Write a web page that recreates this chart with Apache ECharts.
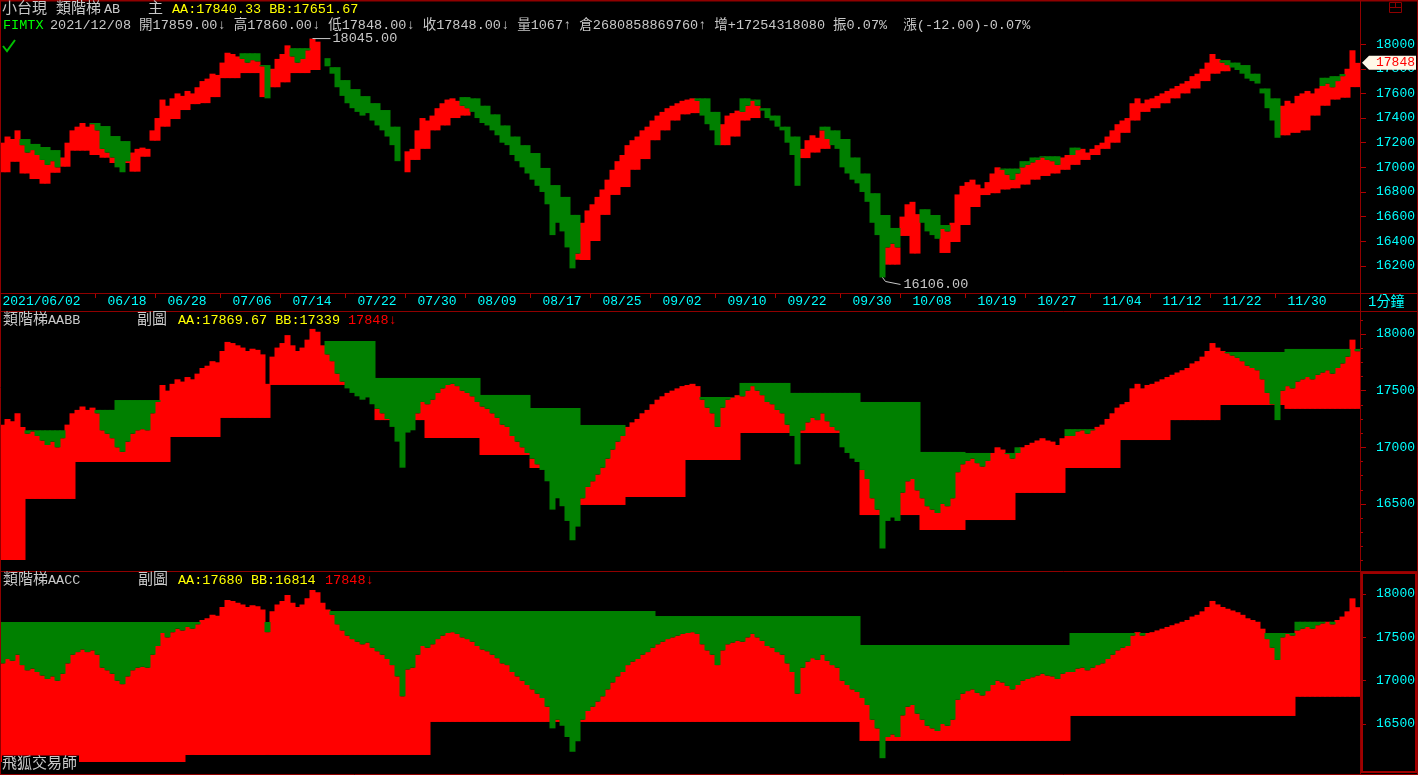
<!DOCTYPE html>
<html><head><meta charset="utf-8">
<script src="https://cdn.jsdelivr.net/npm/echarts@6/dist/echarts.min.js"></script>
<style>html,body{margin:0;padding:0;background:#000;overflow:hidden}#c{width:1418px;height:775px;}</style>
</head><body><div id="c"></div>
<script>
// ---- price (one value per 5px slot) ----
const price = [
17200,17250,17230,17300,17180,17120,17140,17100,17060,17020,
17050,17000,17080,17200,17300,17330,17360,17330,17350,17300,
17150,17120,17080,17000,16960,17050,17120,17150,17160,17150,
17300,17400,17550,17500,17560,17600,17580,17620,17600,17650,
17700,17720,17760,17750,17850,17930,17920,17900,17880,17850,
17870,17860,17820,17560,17800,17880,17920,17990,17900,17850,
17880,17950,18045,18020,17900,17820,17760,17650,17580,17520,
17480,17450,17420,17440,17380,17340,17300,17250,17180,17050,
16820,17130,17150,17300,17400,17380,17420,17480,17520,17550,
17560,17540,17500,17480,17450,17400,17360,17340,17300,17260,
17200,17180,17100,17050,17000,16950,16900,16850,16800,16700,
16450,16550,16480,16350,16180,16300,16550,16650,16700,16760,
16820,16900,16980,17050,17100,17180,17220,17250,17300,17330,
17380,17420,17450,17480,17500,17520,17540,17550,17560,17540,
17420,17350,17300,17180,17350,17420,17440,17460,17450,17500,
17540,17500,17460,17400,17380,17330,17300,17200,17100,16850,
17150,17220,17260,17240,17300,17230,17180,17150,17000,16950,
16900,16870,16800,16720,16550,16450,16106,16350,16380,16350,
16600,16700,16720,16620,16550,16480,16450,16420,16500,16480,
16550,16780,16850,16880,16900,16860,16830,16880,16950,17000,
16980,16940,16900,16950,17000,17020,17040,17060,17080,17060,
17050,17020,17080,17100,17100,17140,17150,17120,17150,17180,
17200,17250,17300,17350,17380,17400,17520,17560,17520,17550,
17560,17580,17600,17620,17640,17660,17680,17700,17740,17760,
17800,17850,17920,17880,17850,17830,17810,17790,17760,17720,
17700,17680,17600,17480,17380,17240,17500,17540,17520,17580,
17600,17620,17600,17640,17660,17680,17650,17700,17740,17800,
17950,17848];

// ---- main panel ladder (one value per trading day = 2 slots) ----
const topAA = [
null,17213,17230,17190,17165,17140,null,null,null,17360,
17335,17254,17213,null,null,null,null,null,null,null,
null,null,null,null,17926,17926,17830,null,null,17967,
17967,17960,17886,17813,17708,17635,17578,17521,17465,17330,
null,null,null,null,null,null,17570,17560,17500,17430,
17340,17250,17180,17116,16995,16856,16760,16614,null,null,
null,null,null,null,null,null,null,null,null,17560,
17560,17450,null,null,17560,17550,17480,17420,17330,17250,
null,null,17330,17300,17230,17080,16950,16790,16613,16508,
null,null,16660,16613,16532,null,null,null,null,null,
16990,16990,17050,17080,17090,17090,null,17160,null,null,
null,null,null,null,null,null,null,null,null,null,
null,null,17870,17850,17830,17760,17640,17560,null,null,
null,null,17727,17740,17757,17840];
const topBB = [
16960,17045,16950,16905,16867,16956,17005,17135,17135,17100,
17078,17035,17035,16965,17086,17216,17330,17392,17465,17513,
17521,17570,17724,17724,17765,17765,17570,17650,17690,17765,
17765,17790,null,null,null,null,null,null,null,null,
16960,17060,17150,17300,17340,17400,17420,null,null,null,
null,null,null,null,null,null,null,16250,16248,16402,
16614,16776,16840,16980,17067,17220,17300,17380,17430,17440,
null,null,17180,17250,17380,17400,null,null,null,null,
17075,17120,17150,null,null,null,null,null,16210,16210,
16443,16300,null,null,16305,16394,16532,16678,16775,16790,
16820,16830,16860,16900,16930,16950,16980,17020,17060,17100,
17150,17200,17280,17380,17450,17480,17520,17560,17600,17640,
17700,17760,17780,null,null,null,null,null,17260,17280,
17300,17420,17500,17550,17565,17651];

// ---- AABB ladder: segment end slot, upper level, lower level ----
const midEnd = [5,15,23,34,44,54,65,75,85,96,106,116,125,137,148,158,172,184,193,203,213,224,234,244,257,272];
const midAA  = [17150,17150,17330,17417,null,null,null,17938,17612,17612,17462,17347,17197,null,17444,17568,17480,17400,16959,16950,17000,17160,null,null,17841,17868];
const midBB  = [16005,16544,16870,16870,17091,17259,17550,17550,17240,17082,16932,16817,16491,16561,16888,17126,17126,16402,16270,16358,16597,16817,17064,17240,17373,17339];

// ---- AACC ladder ----
const botEnd = [37,66,86,131,172,214,259,272];
const botAA  = [17677,17677,17804,17804,17746,17412,17550,17680];
const botBB  = [16062,16143,16143,16524,16524,16305,16593,16814];

// ---- axis labels ----
const xLabelIdx  = [0,21,33,46,58,71,83,95,108,120,132,145,157,170,182,195,207,220,232,244,257];
const xLabelText = ['2021/06/02','06/18','06/28','07/06','07/14','07/22','07/30','08/09','08/17','08/25','09/02','09/10','09/22','09/30','10/08','10/19','10/27','11/04','11/12','11/22','11/30'];
const topTicks = [16200,16400,16600,16800,17000,17200,17400,17600,17800,18000];
const subTicks = [16500,17000,17500,18000];
const subMinor = [16000,16125,16250,16375,16625,16750,16875,17125,17250,17375,17625,17750,17875,18125];
const lastPrice = 17848, highMark = 18045, lowMark = 16106;

const N = price.length;
const cats = price.map((_, i) => String(i));
function expand(ends, vals) {
  const out = []; let s = 0;
  for (let k = 0; k < ends.length; k++) { for (let i = s; i < ends[k]; i++) out.push(vals[k]); s = ends[k]; }
  return out;
}
const topA = price.map((_, i) => topAA[Math.floor(i / 2)]);
const topB = price.map((_, i) => topBB[Math.floor(i / 2)]);
const panels = [
  [topA, topB],
  [expand(midEnd, midAA), expand(midEnd, midBB)],
  [expand(botEnd, botAA), expand(botEnd, botBB)]
];
const RED = '#ff0000', GREEN = '#008000', BORDER = '#900000';
const series = [];
panels.forEach(([A, B], g) => {
  const base = [], red = [], green = [];
  for (let i = 0; i < N; i++) {
    const p = price[i], a = A[i], b = B[i];
    const lo = b == null ? p : Math.min(b, p);
    base.push(lo); red.push(p - lo); green.push(a == null ? 0 : Math.max(a - p, 0));
  }
  const common = { type: 'bar', stack: 's' + g, xAxisIndex: g, yAxisIndex: g, barWidth: 6, silent: true, animation: false };
  series.push(Object.assign({ data: base, itemStyle: { color: 'rgba(0,0,0,0)' } }, common));
  series.push(Object.assign({ data: red, itemStyle: { color: RED } }, common));
  series.push(Object.assign({ data: green, itemStyle: { color: GREEN } }, common));
});

const FONT = '"Liberation Mono","Noto Sans CJK TC",monospace';
function xAx(g) {
  return { type: 'category', gridIndex: g, data: cats, show: false };
}
function yAx(g, min, max, ticks, withLabels, len) {
  return {
    type: 'value', gridIndex: g, position: 'right', min: min, max: max,
    axisLine: { show: withLabels, lineStyle: { color: BORDER } },
    splitLine: { show: false },
    axisTick: { show: true, customValues: ticks, length: len, lineStyle: { color: '#b00000' } },
    axisLabel: { show: withLabels, customValues: ticks, formatter: (v) => String(v), color: '#00ffff', fontFamily: FONT, fontSize: 13, margin: 16 }
  };
}
const chart = echarts.init(document.getElementById('c'), null, { renderer: 'canvas' });
chart.setOption({
  backgroundColor: '#000',
  animation: false,
  grid: [
    { left: 0, top: 1, width: 1360, height: 292 },
    { left: 0, top: 312, width: 1360, height: 258 },
    { left: 0, top: 572, width: 1360, height: 201 }
  ],
  xAxis: [xAx(0), xAx(1), xAx(2)],
  yAxis: [
    yAx(0, 15980, 18350, topTicks, true, 6),
    yAx(1, 15917, 18194, subTicks, true, 6),
    yAx(2, 15935, 18254, subTicks, true, 6),
    yAx(1, 15917, 18194, subMinor, false, 3),
    yAx(2, 15935, 18254, subMinor, false, 3)
  ],
  series: series
});

// ---- overlay texts, x-axis labels and frame ----
const hiIdx = price.indexOf(highMark), loIdx = price.indexOf(lowMark);
const hiPt = chart.convertToPixel({ gridIndex: 0 }, [hiIdx, highMark]);
const loPt = chart.convertToPixel({ gridIndex: 0 }, [loIdx, lowMark]);
const tagY = chart.convertToPixel({ yAxisIndex: 0 }, lastPrice);
function T(x, y, text, fill, size, extra) {
  return { type: 'text', z: 100, style: Object.assign({ x: x, y: y, text: text, fill: fill,
    font: (size || 13) + 'px ' + FONT, verticalAlign: 'middle' }, extra || {}) };
}
function L(x1, y1, x2, y2, w, c) {
  return { type: 'line', z: 99, shape: { x1: x1, y1: y1, x2: x2, y2: y2 }, style: { stroke: c || BORDER, lineWidth: w || 1 } };
}
const GRAY = '#c8c8c8', YEL = '#ffff00', CYAN = '#00ffff';
const els = [
  L(0, 0.5, 1418, 0.5, 2), L(0.5, 0, 0.5, 775), L(1417.5, 0, 1417.5, 775), L(0, 774.5, 1418, 774.5),
  L(1360.5, 0, 1360.5, 775), L(0, 293.5, 1418, 293.5), L(0, 311.5, 1418, 311.5), L(0, 571.5, 1418, 571.5),
  { type: 'rect', z: 99, shape: { x: 1362, y: 573, width: 54, height: 199 }, style: { fill: null, stroke: '#a00000', lineWidth: 2 } },
  { type: 'rect', z: 99, shape: { x: 1389.5, y: 2.5, width: 12, height: 10 }, style: { fill: null, stroke: BORDER, lineWidth: 1 } },
  L(1389.5, 7.5, 1401.5, 7.5, 1), L(1395.5, 2.5, 1395.5, 7.5, 1),
  T(2, 9, '小台現 類階梯', GRAY, 15), T(104, 9, 'AB', GRAY, 13.5), T(148, 9, '主', GRAY, 15), T(172, 9, 'AA:17840.33 BB:17651.67', YEL, 13.5),
  T(3, 25, 'FIMTX', '#00ff00', 13.5),
  T(50, 25, '2021/12/08 開17859.00↓ 高17860.00↓ 低17848.00↓ 收17848.00↓ 量1067↑ 倉2680858869760↑ 增+17254318080 振0.07%  漲(-12.00)-0.07%', GRAY, 13.5),
  { type: 'polyline', z: 100, shape: { points: [[3, 46], [7, 51], [15, 40]] }, style: { stroke: '#00c000', lineWidth: 2, fill: null } },
  L(hiPt[0], hiPt[1], hiPt[0] + 18, hiPt[1], 1, GRAY), T(hiPt[0] + 20, hiPt[1], '18045.00', GRAY, 13.5),
  { type: 'polyline', z: 100, shape: { points: [[loPt[0], loPt[1]], [loPt[0] + 3, loPt[1] + 4], [loPt[0] + 18, loPt[1] + 7]] }, style: { stroke: GRAY, lineWidth: 1, fill: null } },
  T(loPt[0] + 21, loPt[1] + 7, '16106.00', GRAY, 13.5),
  { type: 'polygon', z: 100, shape: { points: [[1362, tagY], [1369, tagY - 7], [1416, tagY - 7], [1416, tagY + 7], [1369, tagY + 7]] }, style: { fill: '#fff8e8' } },
  T(1376, tagY, String(lastPrice), RED, 13),
  T(1368, 302, '1分鐘', CYAN, 14),
  T(3, 320, '類階梯', GRAY, 15), T(48, 320, 'AABB', GRAY, 13.5), T(137, 320, '副圖', GRAY, 15), T(178, 320, 'AA:17869.67 BB:17339', YEL, 13.5), T(348, 320, '17848↓', RED, 13.5),
  T(3, 580, '類階梯', GRAY, 15), T(48, 580, 'AACC', GRAY, 13.5), T(138, 580, '副圖', GRAY, 15), T(178, 580, 'AA:17680 BB:16814', YEL, 13.5), T(325, 580, '17848↓', RED, 13.5),
  T(2, 764, '飛狐交易師', GRAY, 15, { backgroundColor: '#000', padding: [1, 2, 1, 0] })
];
xLabelIdx.forEach((idx, k) => {
  const px = chart.convertToPixel({ xAxisIndex: 0 }, idx);
  els.push(T(px, 302, xLabelText[k], CYAN, 13));
  if (k > 0) els.push(L(Math.round(px - 12) + 0.5, 294, Math.round(px - 12) + 0.5, 298, 1, '#b00000'));
});
chart.setOption({ graphic: { elements: els } });
</script></body></html>
